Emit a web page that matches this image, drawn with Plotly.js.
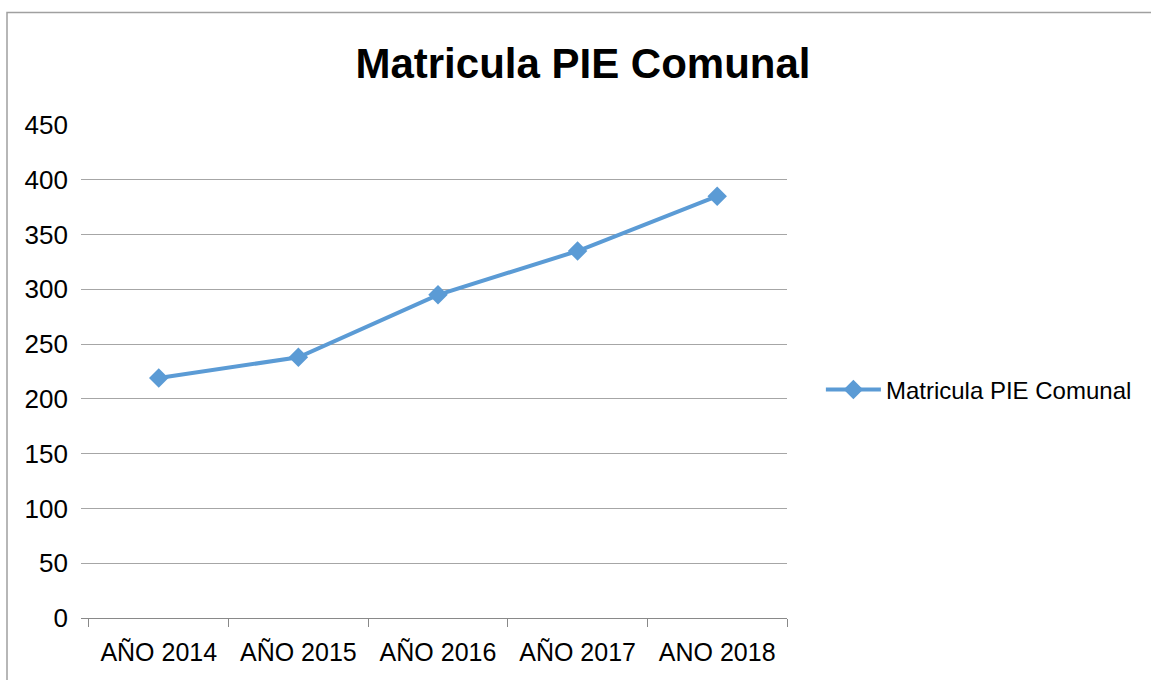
<!DOCTYPE html>
<html>
<head>
<meta charset="utf-8">
<script src="https://cdn.plot.ly/plotly-3.0.1.min.js"></script>
<style>
  html, body { margin: 0; padding: 0; background: #ffffff; }
  #chart { width: 1151px; height: 680px; }
</style>
</head>
<body>
<div id="chart"></div>
<script>
// ---- data ----
const categories = ["AÑO 2014", "AÑO 2015", "AÑO 2016", "AÑO 2017", "ANO 2018"];
const values = [219, 238, 295, 335, 385];
const seriesName = "Matricula PIE Comunal";
const chartTitle = "Matricula PIE Comunal";
const yTicks = [0, 50, 100, 150, 200, 250, 300, 350, 400, 450];

const FONT = "Liberation Sans, Arial, Helvetica, sans-serif";
const BLUE = "#5B9BD5";

const trace = {
  type: "scatter",
  mode: "lines+markers",
  x: categories,
  y: values,
  name: seriesName,
  line: { color: BLUE, width: 4 },
  marker: { symbol: "diamond", size: 15, color: BLUE },
  showlegend: true
};

const layout = {
  width: 1151,
  height: 680,
  margin: { l: 81, r: 364, t: 125, b: 62, pad: 0 },
  paper_bgcolor: "#ffffff",
  plot_bgcolor: "#ffffff",
  font: { family: FONT, color: "#000000", size: 25 },
  title: {
    text: chartTitle,
    font: { family: FONT, size: 42, weight: "bold", color: "#000000" },
    xref: "container", x: 0.5065, xanchor: "center",
    yref: "container", y: 0.907, yanchor: "middle"
  },
  xaxis: {
    type: "category",
    range: [-0.557, 4.5],
    showgrid: false,
    zeroline: false,
    showline: true,
    linecolor: "#898989",
    linewidth: 1,
    ticks: "outside",
    tickson: "boundaries",
    ticklen: 8,
    tickcolor: "#898989",
    tickwidth: 1,
    tickfont: { family: FONT, size: 25, color: "#000000" },
    ticklabelstandoff: 12,
    fixedrange: true
  },
  yaxis: {
    range: [0, 450],
    tickmode: "array",
    tickvals: yTicks,
    ticktext: yTicks.map(String),
    showgrid: true,
    gridcolor: "#A6A6A6",
    gridwidth: 1,
    zeroline: false,
    showline: false,
    ticks: "",
    tickfont: { family: FONT, size: 26, color: "#000000" },
    ticklabelstandoff: 12,
    fixedrange: true
  },
  legend: {
    x: 1.048, xanchor: "left",
    y: 0.4625, yanchor: "middle",
    itemwidth: 55,
    font: { family: FONT, size: 24, color: "#000000" },
    bgcolor: "rgba(0,0,0,0)",
    borderwidth: 0
  },
  shapes: [
    {
      type: "rect", xref: "paper", yref: "paper",
      x0: (7 - 81) / 706, x1: (1170 - 81) / 706,
      y0: (618 - 700) / 493, y1: (618 - 12.5) / 493,
      line: { color: "#A0A0A0", width: 1.5 },
      fillcolor: "rgba(0,0,0,0)",
      layer: "below"
    }
  ]
};

Plotly.newPlot("chart", [trace], layout, { displayModeBar: false, staticPlot: true });
</script>
</body>
</html>
